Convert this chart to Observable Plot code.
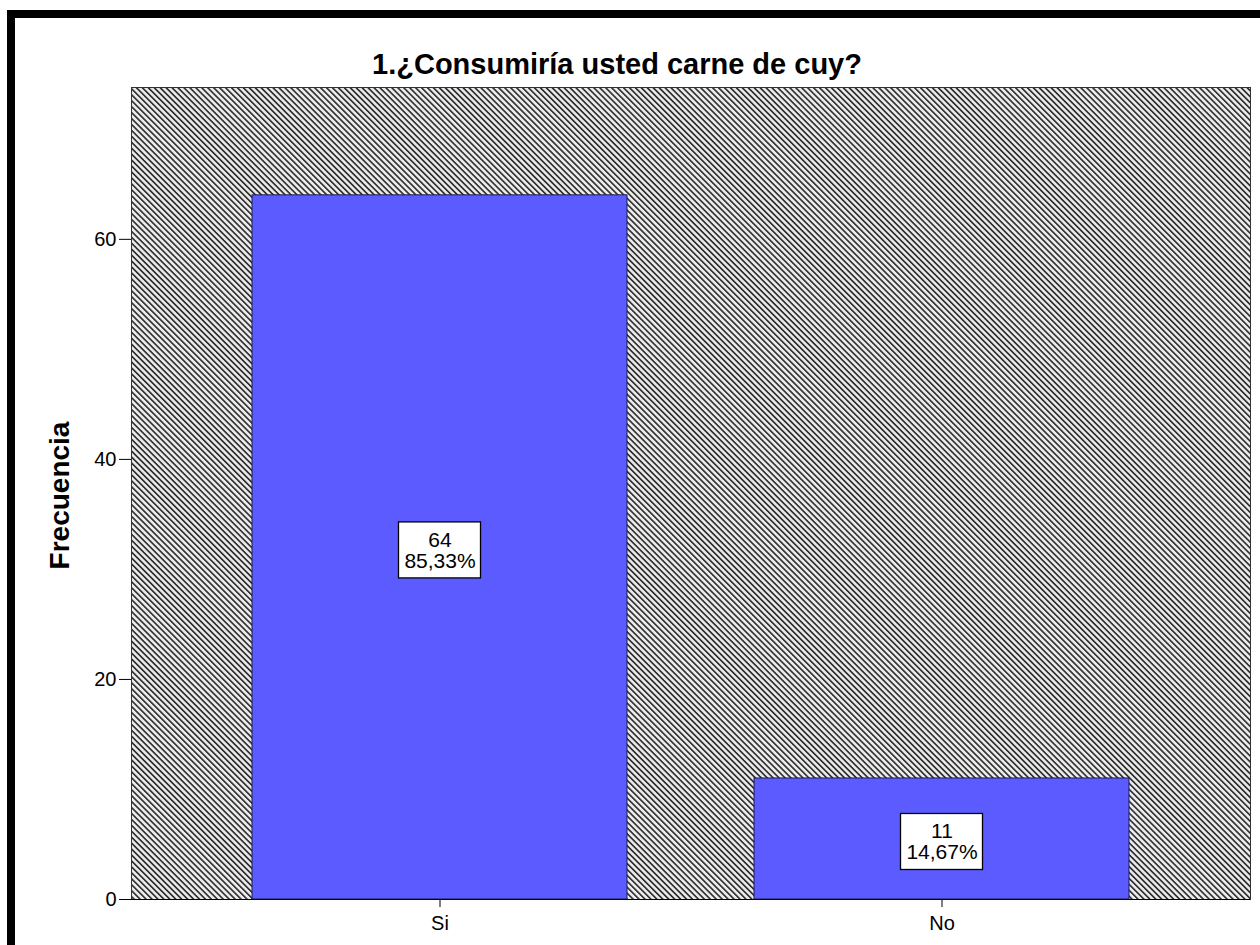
<!DOCTYPE html>
<html>
<head>
<meta charset="utf-8">
<script src="https://cdn.jsdelivr.net/npm/d3@7"></script>
<script src="https://cdn.jsdelivr.net/npm/@observablehq/plot@0.6"></script>
<style>
  html, body { margin: 0; padding: 0; background: #fff; overflow: hidden; width: 1260px; height: 945px; }
  #wrap { position: relative; width: 1260px; height: 945px; }
  #border { position: absolute; left: 7px; top: 10px; width: 1300px; height: 1000px;
            border-top: 8px solid #000; border-left: 8px solid #000; box-sizing: border-box; }
  #chart { position: absolute; left: 0; top: 0; }
</style>
</head>
<body>
<div id="wrap"><div id="border"></div><div id="chart"></div></div>
<script>
const title = "1.¿Consumiría usted carne de cuy?";
const yLabel = "Frecuencia";
const categories = ["Si", "No"];
const counts = [64, 11];
const percents = ["85,33%", "14,67%"];
const yTicks = [0, 20, 40, 60];

const data = categories.map((c, i) => ({cat: c, count: counts[i], label: counts[i] + "\n" + percents[i]}));

const font = "'Liberation Sans', Arial, sans-serif";

const chart = Plot.plot({
  width: 1260,
  height: 945,
  marginLeft: 131,
  marginRight: 10,
  marginTop: 87,
  marginBottom: 46,
  style: {fontFamily: font, background: "transparent", color: "#000"},
  x: {domain: categories, type: "band", paddingInner: 0.2525, paddingOuter: 0.2386, align: 0.5},
  y: {domain: [0, 73.8]},
  marks: [
    Plot.frame({fill: "url(#hatch)", stroke: "#333", strokeWidth: 1}),
    Plot.barY(data, {x: "cat", y: "count", fill: "#5b5bff", stroke: "#1c1c50", strokeWidth: 1}),
    Plot.rect(data, {x: "cat", y1: d => d.count / 2, y2: d => d.count / 2,
      insetLeft: 146.5, insetRight: 146.5, insetTop: -25, insetBottom: -31,
      fill: "#fff", stroke: "#000", strokeWidth: 1.3}),
    Plot.text(data, {x: "cat", y: d => d.count / 2, text: "label", dy: 3,
      fontSize: 21, lineHeight: 1.0, fill: "#000", fontFamily: font}),
    Plot.axisY({ticks: yTicks, tickSize: 12, tickPadding: 3, fontSize: 20, label: null, stroke: "#000"}),
    Plot.axisX({tickSize: 8, tickPadding: 8, fontSize: 20, label: null, stroke: "#000"}),
    Plot.ruleX([0], {frameAnchor: "left", stroke: "#000"}),
    Plot.ruleY([0], {stroke: "#000"}),
    Plot.text([title], {frameAnchor: "top", dy: -34, dx: -74, fontSize: 29, fontWeight: "bold",
      fill: "#000", fontFamily: font}),
    Plot.text([yLabel], {frameAnchor: "left", textAnchor: "middle", dx: -71, dy: 2, rotate: -90, fontSize: 28,
      fontWeight: "bold", fill: "#000", fontFamily: font})
  ]
});

const svg = d3.select(chart);
const defs = svg.insert("defs", ":first-child");
const pat = defs.append("pattern")
  .attr("id", "hatch")
  .attr("patternUnits", "userSpaceOnUse")
  .attr("width", 4.2)
  .attr("height", 4.2)
  .attr("patternTransform", "rotate(-45)");
pat.append("rect").attr("width", 4.2).attr("height", 4.2).attr("fill", "#ececec");
pat.append("rect").attr("x", 0).attr("y", 0).attr("width", 1.7).attr("height", 4.2).attr("fill", "#333");

document.getElementById("chart").appendChild(chart);
</script>
</body>
</html>
